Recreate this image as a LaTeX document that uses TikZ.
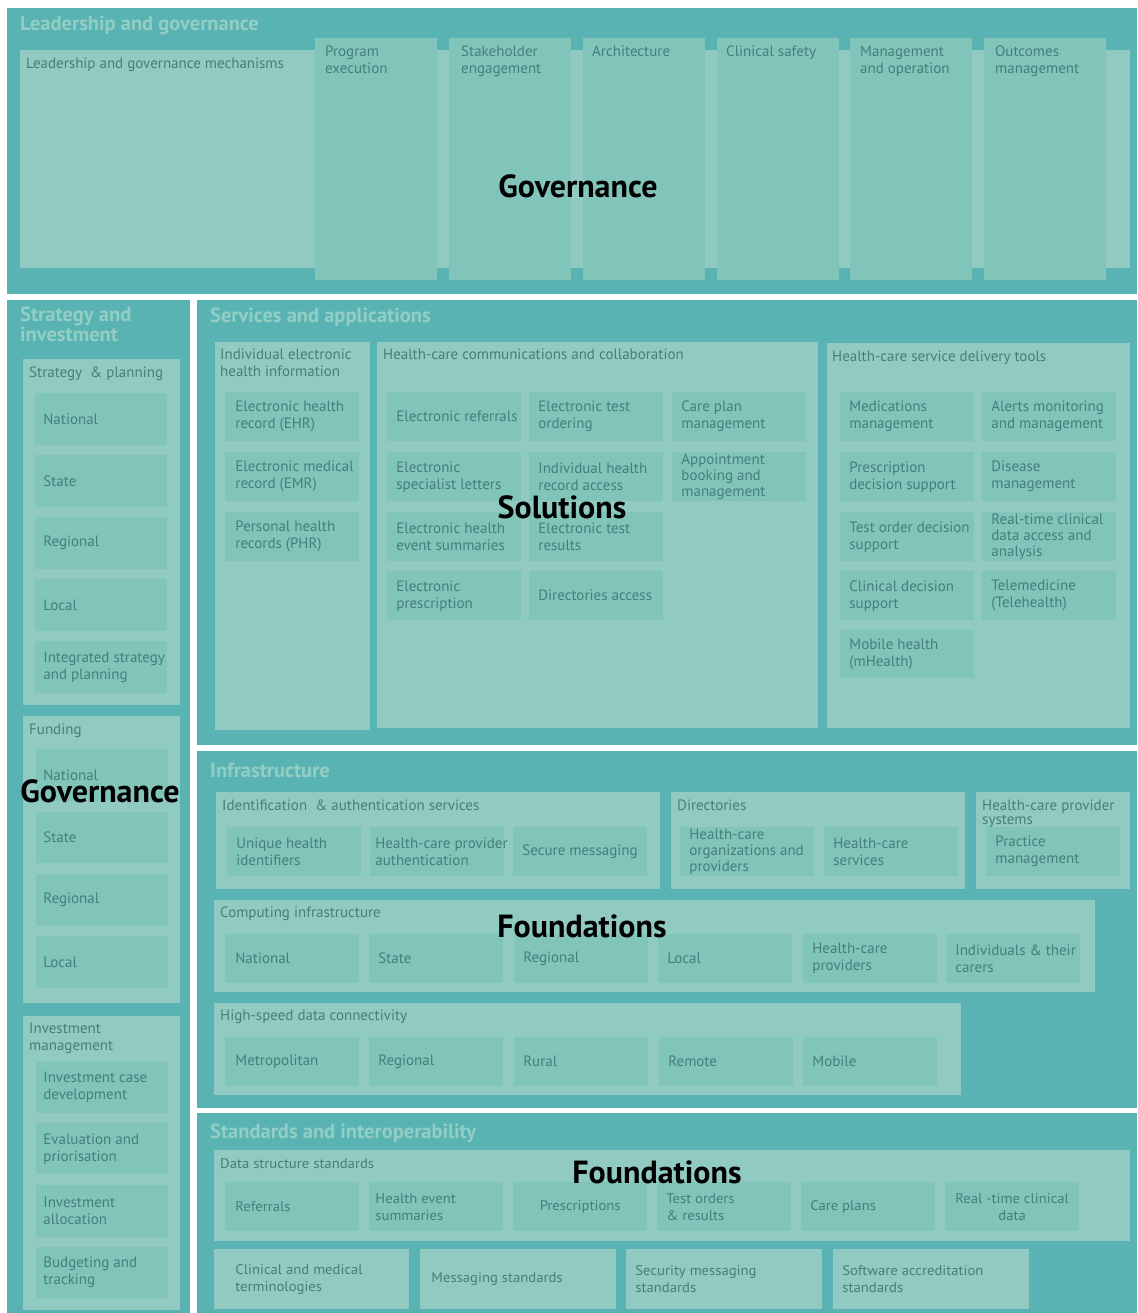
\documentclass[tikz,border=0pt]{standalone}
\usepackage{fontspec}
\setmainfont{PT Sans}
\newfontfamily\stdfont[FakeStretch=1.05]{PT Sans}
\hyphenpenalty=10000
\exhyphenpenalty=10000
\definecolor{tealbg}{HTML}{5AB3B3}
\definecolor{panelc}{HTML}{90CAC0}
\definecolor{subc}{HTML}{80C4BA}
\definecolor{txtc}{HTML}{467F79}
\definecolor{headc}{HTML}{93CEC4}
\newcommand\sm{\fontsize{15}{17}\selectfont}
\newcommand\smst{\stdfont\fontsize{14}{17}\selectfont}
\newcommand\hd{\fontsize{20.5}{20}\selectfont\bfseries}
\newcommand\bg{\fontsize{32}{33}\selectfont\bfseries}
% plain rectangle: name, x1, y1, x2, y2, style
\newcommand\rb[6]{%
  \pgfmathsetmacro\bxw{#4-#2}%
  \pgfmathsetmacro\bxh{#5-#3}%
  \node[#6,anchor=north west,inner sep=0pt,minimum width=\bxw pt,minimum height=\bxh pt] (#1) at (#2,#3) {};}
% box with left-aligned text: name, x1, y1, x2, y2, box style, text style, text
\newcommand\bx[8]{%
  \rb{#1}{#2}{#3}{#4}{#5}{#6}%
  \pgfmathsetmacro\bxo{-(#4-#2)/2+9}%
  \node[anchor=west, xshift=\bxo pt, #7] (#1-t) at (#1.center) {#8};}
% box with centred text
\newcommand\bxc[8]{%
  \rb{#1}{#2}{#3}{#4}{#5}{#6}%
  \node[anchor=center, #7, align=center] (#1-t) at (#1.center) {#8};}
\tikzset{
  sec/.style={fill=tealbg, draw=none},
  panel/.style={fill=panelc, draw=none},
  subbox/.style={fill=subc, draw=none},
  btxt/.style={inner sep=0pt, align=left, font=\sm, text=txtc},
  stxt/.style={btxt, font=\smst},
  ttl/.style={inner sep=0pt, anchor=north west, align=left, font=\sm, text=txtc},
  ttlst/.style={ttl, font=\smst},
  head/.style={inner sep=0pt, anchor=north west, align=left, font=\hd, text=headc},
  big/.style={inner sep=0pt, font=\bg, text=black}
}
\begin{document}
\begin{tikzpicture}[x=1pt,y=-1pt]
\useasboundingbox (0,0) rectangle (1137,1313);
\fill[white] (0,0) rectangle (1137,1313);
% ===== Leadership and governance =====
\rb{lg}{7}{8}{1137}{294}{sec}
\node[head] (lg-h) at (20,16) {Leadership and governance};
\rb{lgm}{20}{50}{1130}{268}{panel}
\node[ttl] (lgm-t) at (26,58) {Leadership and governance mechanisms};
\rb{c1}{315}{38}{437}{280}{subbox}
\rb{c2}{449}{38}{571}{280}{subbox}
\rb{c3}{583}{38}{705}{280}{subbox}
\rb{c4}{717}{38}{839}{280}{subbox}
\rb{c5}{850}{38}{972}{280}{subbox}
\rb{c6}{984}{38}{1106}{280}{subbox}
\node[ttl] (c1-t) at (325,46) {Program\\execution};
\node[ttl] (c2-t) at (461,46) {Stakeholder\\engagement};
\node[ttl] (c3-t) at (592,46) {Architecture};
\node[ttl] (c4-t) at (726,46) {Clinical safety};
\node[ttl] (c5-t) at (860,46) {Management\\and operation};
\node[ttl] (c6-t) at (995,46) {Outcomes\\management};
\node[big] (gov1) at (578,186) {Governance};
% ===== Strategy and investment =====
\rb{si}{7}{300}{190}{1313}{sec}
\node[head] (si-h) at (20,307) {Strategy and\\investment};
\rb{sp}{23}{359}{180}{705}{panel}
\node[ttl] (sp-t) at (29,367) {Strategy \ \& planning};
\bx{sp1}{35}{393}{167}{445}{subbox}{btxt, xshift=-1pt}{National}
\bx{sp2}{35}{455}{167}{507}{subbox}{btxt, xshift=-1pt}{State}
\bx{sp3}{35}{517}{167}{569}{subbox}{btxt, xshift=-1pt}{Regional}
\bx{sp4}{35}{579}{167}{631}{subbox}{btxt, xshift=-1pt}{Local}
\bx{sp5}{35}{641}{167}{693}{subbox}{btxt, xshift=-1pt}{Integrated strategy\\and planning}
\rb{fu}{23}{716}{180}{1003}{panel}
\node[ttl] (fu-t) at (29,724) {Funding};
\bx{fu1}{36}{749}{168}{801}{subbox}{btxt, xshift=-2pt}{National}
\bx{fu2}{36}{812}{168}{863}{subbox}{btxt, xshift=-2pt}{State}
\bx{fu3}{36}{874}{168}{926}{subbox}{btxt, xshift=-2pt}{Regional}
\bx{fu4}{36}{936}{168}{988}{subbox}{btxt, xshift=-2pt}{Local}
\rb{im}{23}{1016}{180}{1310}{panel}
\node[ttl] (im-t) at (29,1023) {Investment\\management};
\bx{im1}{36}{1062}{168}{1113}{subbox}{btxt, xshift=-2pt}{Investment case\\development}
\bx{im2}{36}{1123}{168}{1174}{subbox}{btxt, xshift=-2pt}{Evaluation and\\priorisation}
\bx{im3}{36}{1185}{168}{1237}{subbox}{btxt, xshift=-2pt}{Investment\\allocation}
\bx{im4}{36}{1247}{168}{1298}{subbox}{btxt, xshift=-2pt}{Budgeting and\\tracking}
\node[big] (gov2) at (100,791) {Governance};
% ===== Services and applications =====
\rb{sa}{197}{300}{1137}{745}{sec}
\node[head] (sa-h) at (210,308) {Services and applications};
\rb{ie}{215}{342}{370}{730}{panel}
\node[ttl] (ie-t) at (220,349) {Individual electronic\\health information};
\bx{ie1}{225}{392}{359}{441}{subbox}{btxt, xshift=1pt}{Electronic health\\record (EHR)}
\bx{ie2}{225}{452}{359}{501}{subbox}{btxt, xshift=1pt}{Electronic medical\\record (EMR)}
\bx{ie3}{225}{512}{359}{561}{subbox}{btxt, xshift=1pt}{Personal health\\records (PHR)}
\rb{hc}{377}{342}{818}{728}{panel}
\node[ttl] (hc-t) at (383,349) {Health-care communications and collaboration};
\bx{hc1}{387}{392}{521}{441}{subbox}{btxt}{Electronic referrals}
\bx{hc2}{387}{452}{521}{501}{subbox}{btxt}{Electronic\\specialist letters}
\bx{hc3}{387}{512}{521}{561}{subbox}{btxt}{Electronic health\\event summaries}
\bx{hc4}{387}{571}{521}{620}{subbox}{btxt}{Electronic\\prescription}
\bx{hc5}{529}{392}{663}{441}{subbox}{btxt}{Electronic test\\ordering}
\bx{hc6}{529}{452}{663}{501}{subbox}{btxt}{Individual health\\record access}
\bx{hc7}{529}{512}{663}{561}{subbox}{btxt}{Electronic test\\results}
\bx{hc8}{529}{571}{663}{620}{subbox}{btxt}{Directories access}
\bx{hc9}{672}{392}{806}{441}{subbox}{btxt}{Care plan\\management}
\bx{hc10}{672}{452}{806}{501}{subbox}{btxt, font=\fontsize{15}{16}\selectfont}{Appointment\\booking and\\management}
\rb{sd}{827}{343}{1130}{728}{panel}
\node[ttl] (sd-t) at (832,351) {Health-care service delivery tools};
\bx{sd1}{840}{392}{974}{441}{subbox}{btxt}{Medications\\management}
\bx{sd2}{840}{452}{974}{501}{subbox}{btxt}{Prescription\\decision support}
\bx{sd3}{840}{512}{974}{561}{subbox}{btxt}{Test order decision\\support}
\bx{sd4}{840}{571}{974}{620}{subbox}{btxt}{Clinical decision\\support}
\bx{sd5}{840}{630}{974}{678}{subbox}{btxt}{Mobile health\\(mHealth)}
\bx{sd6}{982}{392}{1116}{441}{subbox}{btxt}{Alerts monitoring\\and management}
\bx{sd7}{982}{452}{1116}{501}{subbox}{btxt}{Disease\\management}
\bx{sd8}{982}{512}{1116}{561}{subbox}{btxt, font=\fontsize{15}{16}\selectfont}{Real-time clinical\\data access and\\analysis}
\bx{sd9}{982}{571}{1116}{620}{subbox}{btxt}{Telemedicine\\(Telehealth)}
\node[big] (sol) at (562,507) {Solutions};
% ===== Infrastructure =====
\rb{inf}{197}{751}{1137}{1108}{sec}
\node[head] (inf-h) at (210,763) {Infrastructure};
\rb{ia}{216}{792}{660}{889}{panel}
\node[ttl] (ia-t) at (222,800) {Identification \ \& authentication services};
\bx{ia1}{227}{827}{361}{876}{subbox}{btxt}{Unique health\\identifiers}
\bx{ia2}{370}{827}{504}{876}{subbox}{btxt, xshift=-4pt}{Health-care provider\\authentication}
\bx{ia3}{513}{827}{647}{876}{subbox}{btxt}{Secure messaging}
\rb{dir}{671}{792}{965}{889}{panel}
\node[ttl] (dir-t) at (677,800) {Directories};
\bx{dir1}{680}{827}{814}{876}{subbox}{btxt, font=\fontsize{15}{16}\selectfont}{Health-care\\organizations and\\providers}
\bx{dir2}{824}{827}{958}{876}{subbox}{btxt}{Health-care\\services}
\rb{hps}{976}{792}{1130}{889}{panel}
\node[ttl, font=\fontsize{15}{14}\selectfont] (hps-t) at (982,800) {Health-care provider\\systems};
\bx{hps1}{986}{827}{1120}{876}{subbox}{btxt}{Practice\\management}
\rb{ci}{214}{900}{1095}{992}{panel}
\node[ttl] (ci-t) at (220,907) {Computing infrastructure};
\bx{ci1}{225}{934}{359}{983}{subbox}{btxt, xshift=1pt}{National}
\bx{ci2}{369}{934}{503}{983}{subbox}{btxt}{State}
\bx{ci3}{514}{934}{648}{983}{subbox}{btxt}{Regional}
\bx{ci4}{658}{934}{792}{983}{subbox}{btxt}{Local}
\bx{ci5}{803}{934}{937}{983}{subbox}{btxt}{Health-care\\providers}
\bx{ci6}{946}{934}{1080}{983}{subbox}{btxt}{Individuals \& their\\carers}
\rb{hs}{214}{1003}{961}{1095}{panel}
\node[ttl] (hs-t) at (220,1010) {High-speed data connectivity};
\bx{hs1}{225}{1037}{359}{1086}{subbox}{btxt, xshift=1pt}{Metropolitan}
\bx{hs2}{369}{1037}{503}{1086}{subbox}{btxt}{Regional}
\bx{hs3}{514}{1037}{648}{1086}{subbox}{btxt}{Rural}
\bx{hs4}{659}{1037}{793}{1086}{subbox}{btxt}{Remote}
\bx{hs5}{803}{1037}{937}{1086}{subbox}{btxt}{Mobile}
\node[big] (fnd1) at (582,926) {Foundations};
% ===== Standards and interoperability =====
\rb{st}{197}{1113}{1137}{1313}{sec}
\node[head] (st-h) at (210,1124) {Standards and interoperability};
\rb{ds}{214}{1150}{1130}{1241}{panel}
\node[ttlst] (ds-t) at (220,1158) {Data structure standards};
\bx{ds1}{225}{1182}{359}{1231}{subbox}{stxt, xshift=1pt}{Referrals}
\bx{ds2}{369}{1182}{503}{1231}{subbox}{stxt, xshift=-3pt}{Health event\\summaries}
\bxc{ds3}{513}{1182}{647}{1231}{subbox}{stxt}{Prescriptions}
\bx{ds4}{657}{1182}{791}{1231}{subbox}{stxt}{Test orders\\\& results}
\bx{ds5}{801}{1182}{935}{1231}{subbox}{stxt}{Care plans}
\bxc{ds6}{945}{1182}{1079}{1231}{subbox}{stxt}{Real -time clinical\\data}
\bx{sb1}{214}{1249}{409}{1309}{panel}{stxt, xshift=12pt}{Clinical and medical\\terminologies}
\bx{sb2}{420}{1249}{616}{1309}{panel}{stxt, xshift=2pt}{Messaging standards}
\bx{sb3}{626}{1249}{822}{1309}{panel}{stxt}{Security messaging\\standards}
\bx{sb4}{833}{1249}{1029}{1309}{panel}{stxt}{Software accreditation\\standards}
\node[big] (fnd2) at (657,1172) {Foundations};
\end{tikzpicture}
\end{document}
